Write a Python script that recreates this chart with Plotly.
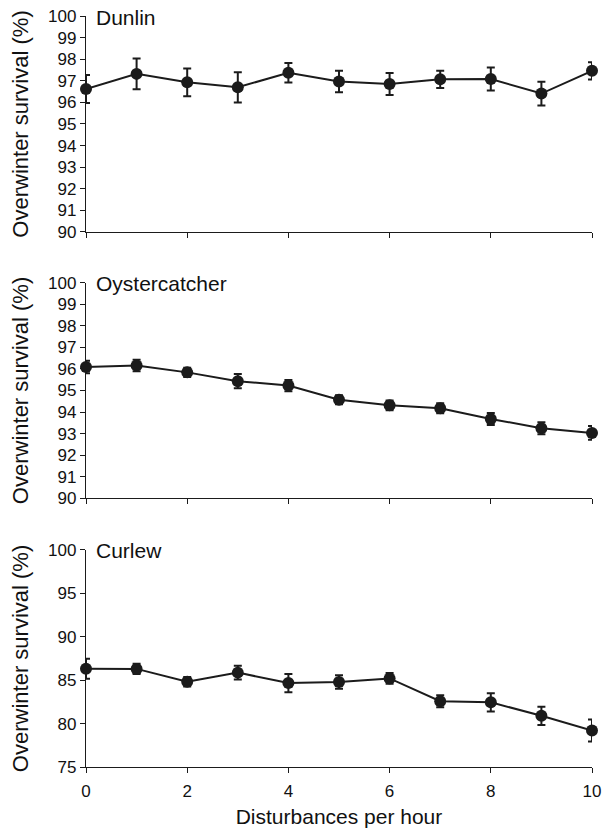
import plotly.graph_objects as go

# Disturbance rate (events per hour)
disturbances = [0, 1, 2, 3, 4, 5, 6, 7, 8, 9, 10]

# Mean overwinter survival (%) and error for each species
dunlin = [96.62, 97.32, 96.93, 96.70, 97.37, 96.97, 96.85, 97.07, 97.08, 96.41, 97.46]
dunlin_err = [0.65, 0.71, 0.64, 0.70, 0.45, 0.50, 0.51, 0.40, 0.53, 0.55, 0.40]

oystercatcher = [96.09, 96.16, 95.84, 95.43, 95.23, 94.57, 94.31, 94.18, 93.68, 93.25, 93.03]
oystercatcher_err = [0.29, 0.27, 0.22, 0.33, 0.26, 0.21, 0.23, 0.23, 0.28, 0.28, 0.32]

curlew = [86.32, 86.30, 84.82, 85.87, 84.67, 84.80, 85.20, 82.57, 82.45, 80.90, 79.20]
curlew_err = [1.15, 0.60, 0.55, 0.80, 1.05, 0.78, 0.62, 0.70, 1.05, 1.05, 1.27]

species = ["Dunlin", "Oystercatcher", "Curlew"]
y_ranges = [(90, 100), (90, 100), (75, 100)]
y_dticks = [1, 1, 5]
domains = [(0.7124, 1.0), (0.3578, 0.6449), (0.0, 0.2890)]

INK = "#1b1b1b"
FONT = "Liberation Sans, Arial, Helvetica, sans-serif"

fig = go.Figure()

series = [(dunlin, dunlin_err), (oystercatcher, oystercatcher_err), (curlew, curlew_err)]
for i, (vals, errs) in enumerate(series):
    n = "" if i == 0 else str(i + 1)
    fig.add_trace(go.Scatter(
        x=disturbances, y=vals,
        xaxis="x" + n, yaxis="y" + n,
        mode="lines+markers",
        line=dict(color=INK, width=2),
        marker=dict(color=INK, size=12, symbol="circle"),
        error_y=dict(type="data", array=errs, visible=True,
                     color=INK, thickness=2, width=4),
        cliponaxis=False,
        showlegend=False,
    ))

layout = dict(
    template="none",
    width=603, height=828,
    margin=dict(l=86, r=11, t=16, b=61),
    paper_bgcolor="white", plot_bgcolor="white",
    font=dict(family=FONT, color="#111111", size=17),
)

annotations = []
for i in range(3):
    n = "" if i == 0 else str(i + 1)
    last = i == 2
    layout["xaxis" + n] = dict(
        domain=[0, 1], anchor="y" + n, automargin=False,
        range=[0, 10], dtick=2, tick0=0,
        showline=True, linecolor=INK, linewidth=1.3,
        ticks="outside", ticklen=5, tickwidth=1.3, tickcolor=INK,
        showgrid=False, zeroline=False,
        showticklabels=last, ticklabelstandoff=3,
        tickfont=dict(size=17),
        title=dict(text="Disturbances per hour", font=dict(size=21), standoff=10) if last else None,
    )
    lo, hi = y_ranges[i]
    layout["yaxis" + n] = dict(
        domain=list(domains[i]), anchor="x" + n, automargin=False,
        range=[lo, hi], dtick=y_dticks[i], tick0=lo,
        showline=True, linecolor=INK, linewidth=1.3,
        ticks="outside", ticklen=5, tickwidth=1.3, tickcolor=INK,
        showgrid=False, zeroline=False,
        tickfont=dict(size=17),
        title=dict(text="Overwinter survival (%)", font=dict(size=22), standoff=13),
    )
    annotations.append(dict(
        text=species[i], xref="x" + n, yref="y" + n,
        x=0, y=hi, xanchor="left", yanchor="middle",
        xshift=8, yshift=-1, showarrow=False,
        font=dict(size=21, family=FONT, color="#111111"),
    ))

layout["annotations"] = annotations
fig.update_layout(**layout)

fig.write_html("out.html")
